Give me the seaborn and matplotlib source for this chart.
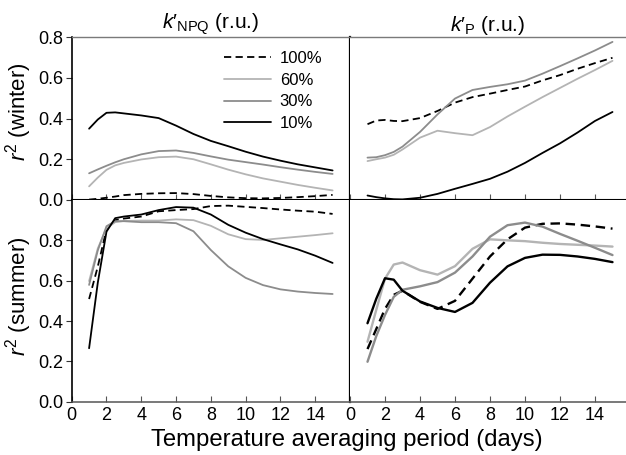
import numpy as np
import pandas as pd
import matplotlib
matplotlib.use("Agg")
import matplotlib.pyplot as plt
import seaborn as sns

# ---------------- data ----------------
days = [1, 1.5, 2, 2.5, 3, 4, 5, 6, 7, 8, 9, 10, 11, 12, 13, 14, 15]
levels = ["100%", "60%", "30%", "10%"]
xticks = [0, 2, 4, 6, 8, 10, 12, 14]
yticks = [0.0, 0.2, 0.4, 0.6, 0.8]

# winter, k'NPQ
w_npq_100 = [0.002, 0.006, 0.011, 0.017, 0.024, 0.030, 0.033, 0.034, 0.029, 0.020, 0.013, 0.009, 0.008, 0.010, 0.014, 0.019, 0.025]
w_npq_60 = [0.067, 0.110, 0.148, 0.170, 0.182, 0.199, 0.210, 0.213, 0.200, 0.175, 0.149, 0.126, 0.106, 0.090, 0.074, 0.060, 0.047]
w_npq_30 = [0.131, 0.150, 0.168, 0.185, 0.200, 0.224, 0.240, 0.243, 0.231, 0.214, 0.198, 0.186, 0.174, 0.161, 0.149, 0.138, 0.128]
w_npq_10 = [0.350, 0.395, 0.428, 0.430, 0.425, 0.415, 0.402, 0.365, 0.324, 0.290, 0.264, 0.237, 0.213, 0.193, 0.175, 0.160, 0.145]

# winter, k'P
w_p_100 = [0.372, 0.390, 0.393, 0.388, 0.387, 0.402, 0.437, 0.478, 0.505, 0.522, 0.540, 0.557, 0.587, 0.613, 0.644, 0.672, 0.698]
w_p_60 = [0.191, 0.200, 0.208, 0.222, 0.248, 0.306, 0.340, 0.328, 0.318, 0.358, 0.410, 0.458, 0.505, 0.550, 0.595, 0.638, 0.683]
w_p_30 = [0.208, 0.210, 0.220, 0.236, 0.262, 0.334, 0.420, 0.498, 0.540, 0.555, 0.568, 0.586, 0.620, 0.657, 0.695, 0.734, 0.776]
w_p_10 = [0.022, 0.014, 0.008, 0.004, 0.003, 0.011, 0.030, 0.055, 0.079, 0.104, 0.139, 0.182, 0.231, 0.278, 0.331, 0.388, 0.432]

# summer, k'NPQ
s_npq_100 = [0.509, 0.670, 0.855, 0.900, 0.908, 0.918, 0.944, 0.950, 0.955, 0.970, 0.972, 0.966, 0.960, 0.953, 0.947, 0.942, 0.931]
s_npq_60 = [0.598, 0.760, 0.860, 0.890, 0.896, 0.898, 0.898, 0.904, 0.900, 0.872, 0.830, 0.806, 0.802, 0.810, 0.818, 0.826, 0.835]
s_npq_30 = [0.579, 0.750, 0.870, 0.895, 0.895, 0.890, 0.890, 0.885, 0.845, 0.752, 0.671, 0.614, 0.578, 0.557, 0.546, 0.539, 0.534]
s_npq_10 = [0.265, 0.590, 0.843, 0.910, 0.918, 0.928, 0.950, 0.965, 0.962, 0.928, 0.877, 0.838, 0.806, 0.780, 0.755, 0.724, 0.688]

# summer, k'P
s_p_100 = [0.261, 0.360, 0.460, 0.530, 0.550, 0.495, 0.460, 0.500, 0.610, 0.720, 0.805, 0.863, 0.882, 0.884, 0.878, 0.869, 0.858]
s_p_60 = [0.297, 0.455, 0.610, 0.680, 0.690, 0.652, 0.630, 0.672, 0.758, 0.805, 0.800, 0.796, 0.788, 0.782, 0.778, 0.774, 0.769]
s_p_30 = [0.198, 0.325, 0.430, 0.520, 0.555, 0.572, 0.593, 0.640, 0.720, 0.818, 0.875, 0.888, 0.868, 0.832, 0.798, 0.763, 0.727]
s_p_10 = [0.389, 0.510, 0.612, 0.605, 0.550, 0.497, 0.465, 0.445, 0.490, 0.590, 0.671, 0.713, 0.729, 0.728, 0.720, 0.708, 0.692]

panels = {
    ("winter", "npq"): [w_npq_100, w_npq_60, w_npq_30, w_npq_10],
    ("winter", "p"): [w_p_100, w_p_60, w_p_30, w_p_10],
    ("summer", "npq"): [s_npq_100, s_npq_60, s_npq_30, s_npq_10],
    ("summer", "p"): [s_p_100, s_p_60, s_p_30, s_p_10],
}

rows = []
for (season, var), series in panels.items():
    for lev, vals in zip(levels, series):
        for d, v in zip(days, vals):
            rows.append(dict(season=season, var=var, level=lev, day=d, r2=v))
df = pd.DataFrame(rows)

# ---------------- style ----------------
sns.set_style("ticks")
plt.rcParams["font.family"] = ["Liberation Sans", "DejaVu Sans"]
plt.rcParams["mathtext.fontset"] = "custom"
plt.rcParams["mathtext.rm"] = "Liberation Sans"
plt.rcParams["mathtext.it"] = "Liberation Sans:italic"
plt.rcParams["mathtext.sf"] = "Liberation Sans"
plt.rcParams["text.color"] = "black"
plt.rcParams["xtick.labelcolor"] = "black"
plt.rcParams["ytick.labelcolor"] = "black"

palette = {"100%": "#000000", "60%": "#b4b4b4", "30%": "#8c8c8c", "10%": "#000000"}
dashes = {"100%": (4, 2.4), "60%": "", "30%": "", "10%": ""}

W, H = 626, 455
fig = plt.figure(figsize=(W / 100, H / 100), dpi=100)

x0, xm, x1 = 71.7 / W, 350 / W, 630 / W
y_top, y_mid, y_bot = 1 - 37 / H, 1 - 200 / H, 1 - 401.7 / H

ax_wn = fig.add_axes([x0, y_mid, xm - x0, y_top - y_mid])
ax_wp = fig.add_axes([xm, y_mid, x1 - xm, y_top - y_mid])
ax_sn = fig.add_axes([x0, y_bot, xm - x0, y_mid - y_bot])
ax_sp = fig.add_axes([xm, y_bot, x1 - xm, y_mid - y_bot])

axmap = {("winter", "npq"): ax_wn, ("winter", "p"): ax_wp,
         ("summer", "npq"): ax_sn, ("summer", "p"): ax_sp}

for key, ax in axmap.items():
    sub = df[(df.season == key[0]) & (df["var"] == key[1])]
    lw = 1.7 if key == ("summer", "p") else 1.3
    sns.lineplot(data=sub, x="day", y="r2", hue="level", style="level",
                 hue_order=levels, style_order=levels, palette=palette,
                 dashes=dashes, linewidth=lw, ax=ax, legend=(key == ("winter", "npq")))
    ax.set_xlim(0, 16)
    ax.set_xticks(xticks)
    ax.set_xlabel("")
    ax.set_ylabel("")
    ax.tick_params(axis="x", direction="in", length=4, color="#555555",
                   labelsize=13, pad=4, labelcolor="black")
    for s in ax.spines.values():
        s.set_visible(False)

for ax in (ax_wn, ax_wp):
    ax.set_ylim(0, 0.8)
    ax.tick_params(axis="x", labelbottom=False)
    ax.spines["top"].set_visible(True)
    ax.spines["top"].set_color("#7a7a7a")
    ax.spines["top"].set_linewidth(1.0)
    ax.spines["bottom"].set_visible(True)
    ax.spines["bottom"].set_color("black")
    ax.spines["bottom"].set_linewidth(1.5)

for ax in (ax_sn, ax_sp):
    ax.set_ylim(0, 1.0)
    ax.spines["bottom"].set_visible(True)
    ax.spines["bottom"].set_color("#555555")
    ax.spines["bottom"].set_linewidth(1.1)

for ax in (ax_wn, ax_sn):
    ax.set_yticks(yticks)
    ax.set_yticklabels([f"{t:.1f}" for t in yticks])
    ax.tick_params(axis="y", direction="out", length=4, labelsize=13, pad=2,
                   color="#333333", labelcolor="black")
    ax.spines["left"].set_visible(True)
    ax.spines["left"].set_color("black")
    ax.spines["left"].set_linewidth(1.2)
    ax.spines["right"].set_visible(True)
    ax.spines["right"].set_color("black")
    ax.spines["right"].set_linewidth(1.6)

for ax in (ax_wp, ax_sp):
    ax.set_yticks([])

ax_wn.set_title(r"$k\prime_{\mathregular{NPQ}}$ (r.u.)", fontsize=15, pad=4, color="black")
ax_wp.set_title(r"$k\prime_{\mathregular{P}}$ (r.u.)", fontsize=15, pad=4, color="black")
ax_wp.title.set_x((488 - 350) / (630 - 350))

fig.text(19 / W, 1 - 112 / H, r"$r^{\mathregular{2}}$ (winter)", rotation=90,
         ha="center", va="center", fontsize=16, color="black")
fig.text(19 / W, 1 - 296 / H, r"$r^{\mathregular{2}}$ (summer)", rotation=90,
         ha="center", va="center", fontsize=16, color="black")

fig.text(347 / W, 1 - 440 / H, "Temperature averaging period (days)",
         ha="center", va="center", fontsize=17.2, color="black")

handles, labels = ax_wn.get_legend_handles_labels()
leg = ax_wn.legend(handles, labels, loc="upper left", bbox_to_anchor=(0.505, 0.985),
                   frameon=False, fontsize=12, handlelength=2.8, handletextpad=0.55,
                   labelspacing=0.4, borderpad=0.2)
for t in leg.get_texts():
    t.set_color("black")

fig.savefig("out.png", dpi=100)
